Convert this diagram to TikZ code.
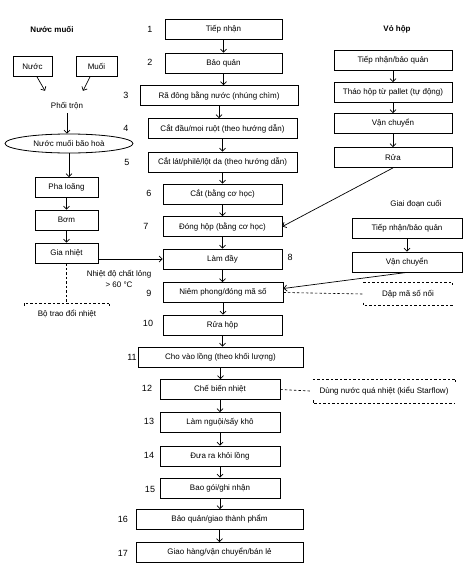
\documentclass[tikz,border=0pt]{standalone}
\usepackage{fontspec}
\setmainfont{Liberation Sans}
\usetikzlibrary{arrows.meta,shapes.geometric,positioning,calc}
\tikzset{%
  procbox/.style  = {shape=rectangle, draw, line width=0.8pt, align=center,%
                     minimum height=20pt, inner sep=2pt, font=\footnotesize},%
  brinebox/.style = {ellipse, draw, line width=0.8pt, inner sep=0pt,%
                     font=\footnotesize},%
  stepnum/.style  = {font=\small},%
  aux/.style      = {dashed, line width=0.6pt, dash pattern=on 2.5pt off 2pt},%
  flow/.style     = {->, line width=0.7pt}%
}

\begin{document}
\begin{tikzpicture}[x=1pt,y=-1pt,
	>={Straight Barb[length=3pt,width=6pt]},
	every node/.style={font=\footnotesize}]
	\useasboundingbox (0,0) rectangle (476,578);
	% main process line
	\node[procbox, minimum width=117pt] (s1)  at (223.5,29)  {Tiếp nhận};
	\node[procbox, minimum width=117pt] (s2)  at (223.5,63)  {Bảo quản};
	\node[procbox, minimum width=158pt] (s3)  at (219,95.5)  {Rã đông bằng nước (nhúng chìm)};
	\node[procbox, minimum width=149pt] (s4)  at (222.5,128.5) {Cắt đầu/moi ruột (theo hướng dẫn)};
	\node[procbox, minimum width=149pt] (s5)  at (222.5,162) {Cắt lát/philê/lột da (theo hướng dẫn)};
	\node[procbox, minimum width=119pt] (s6)  at (222.5,194) {Cắt (bằng cơ học)};
	\node[procbox, minimum width=119pt] (s7)  at (222.5,226.5) {Đóng hộp (bằng cơ học)};
	\node[procbox, minimum width=119pt] (s8)  at (222.5,259) {Làm đầy};
	\node[procbox, minimum width=120pt] (s9)  at (223,292.5) {Niêm phong/đóng mã số};
	\node[procbox, minimum width=119pt] (s10) at (222.5,325) {Rửa hộp};
	\node[procbox, minimum width=165pt] (s11) at (220.5,357) {Cho vào lồng (theo khối lượng)};
	\node[procbox, minimum width=120pt] (s12) at (220,389.5) {Chế biến nhiệt};
	\node[procbox, minimum width=120pt] (s13) at (220,422.5) {Làm nguội/sấy khô};
	\node[procbox, minimum width=120pt] (s14) at (220,456) {Đưa ra khỏi lồng};
	\node[procbox, minimum width=120pt] (s15) at (220,488) {Bao gói/ghi nhận};
	\node[procbox, minimum width=167pt] (s16) at (219.5,519.5) {Bảo quản/giao thành phẩm};
	\node[procbox, minimum width=167pt] (s17) at (219.5,552.5) {Giao hàng/vận chuyển/bán lẻ};
	\foreach \a/\b in {s1/s2,s2/s3,s3/s4,s4/s5,s5/s6,s6/s7,s7/s8,s8/s9,s9/s10,%
		s10/s11,s11/s12,s12/s13,s13/s14,s14/s15,s15/s16,s16/s17}
		\draw[flow] (\a.south) -- (\a.south |- \b.north);
	% step numbers
	\foreach \n/\xx/\yy in {1/150/29,2/150/62,3/126/95,4/126/128,5/127/162,%
		6/149/193,7/146/226,8/290/257,9/149/293,10/148/323,11/132/357,%
		12/147/388,13/149/421,14/149/455,15/150/489,16/123/519,17/123/553}
		\node[stepnum] (n\n) at (\xx,\yy) {\n};

	% brine
	\node[font=\footnotesize\bfseries] (brinetitle) at (52,29) {Nước muối};
	\node[procbox, minimum width=39pt] (water) at (32.5,66.5) {Nước};
	\node[procbox, minimum width=41pt] (salt)  at (96.5,66.5) {Muối};
	\node (mix) at (67,106) {Phối trộn};
	\draw[flow] ([xshift=4.5pt]water.south) -- ($(mix.north)+(-22,-8)$);
	\draw[flow] ([xshift=-6.5pt]salt.south) -- ($(mix.north)+(16,-8)$);
	\node[brinebox, minimum width=128pt, minimum height=19pt] (brine) at (69,143.5) {Nước muối bão hoà};
	\draw[flow] (mix.south) -- (mix.south |- brine.north);
	\node[procbox, minimum width=63pt] (dilute) at (66.5,187.5) {Pha loãng};
	\node[procbox, minimum width=63pt] (pump)   at (66.5,220)   {Bơm};
	\node[procbox, minimum width=63pt] (heat)   at (66.5,253)   {Gia nhiệt};
	\draw[flow] (brine.south) -- (brine.south |- dilute.north);
	\draw[flow] (dilute) -- (pump);
	\draw[flow] (pump) -- (heat);
	\draw[flow] (heat.east |- s8.west) -- (s8.west);
	\node[align=center] (temp) at (119,279) {Nhiệt độ chất lỏng\\[1pt]> 60 °C};
	\node[minimum width=85pt, minimum height=22pt, inner sep=0pt] (exch) at (67,314) {Bộ trao đổi nhiệt};
	\draw[aux] (heat.south) -- (heat.south |- exch.north);
	\draw[aux] ($(exch.north west)+(0,3)$) -- (exch.north west) -- (exch.north east) -- ++(0,3);

	% cans
	\node[font=\footnotesize\bfseries] (cantitle) at (397,29) {Vỏ hộp};
	\node[procbox, minimum width=118pt] (c1) at (393,60)    {Tiếp nhận/bảo quản};
	\node[procbox, minimum width=118pt] (c2) at (393,92.5)  {Tháo hộp từ pallet (tự động)};
	\node[procbox, minimum width=118pt] (c3) at (393,123.5) {Vận chuyển};
	\node[procbox, minimum width=118pt] (c4) at (393,157.5) {Rửa};
	\draw[flow] (c1) -- (c2);
	\draw[flow] (c2) -- (c3);
	\draw[flow] (c3) -- (c4);
	\draw[flow] (c4.south) -- (s7.east);

	% final stage
	\node (endtitle) at (416,204) {Giai đoạn cuối};
	\node[procbox, minimum width=110pt] (e1) at (407,228.5) {Tiếp nhận/bảo quản};
	\node[procbox, minimum width=110pt] (e2) at (407,262)   {Vận chuyển};
	\draw[flow] (e1) -- (e2);
	\draw[flow] (e2.south) -- ([yshift=4pt]s9.east);
	\node[minimum width=89pt, minimum height=23pt, inner sep=0pt] (stamp) at (408,294) {Dập mã số nối};
	\draw[aux] (s9.east) -- (stamp.west);
	\draw[aux] (stamp.north west) -- (stamp.north east) -- ++(0,3);
	\draw[aux] ($(stamp.south west)+(0,-3)$) -- (stamp.south west) -- (stamp.south east);
	\node[minimum width=142pt, minimum height=24pt, inner sep=0pt] (steam) at (384,391) {Dùng nước quá nhiệt (kiểu Starflow)};
	\draw[aux] (s12.east) -- ([xshift=-3pt]steam.west);
	\draw[aux] (steam.north west) -- (steam.north east) -- ++(0,3);
	\draw[aux] ($(steam.south west)+(0,-3)$) -- (steam.south west) -- (steam.south east);
\end{tikzpicture}
\end{document}
